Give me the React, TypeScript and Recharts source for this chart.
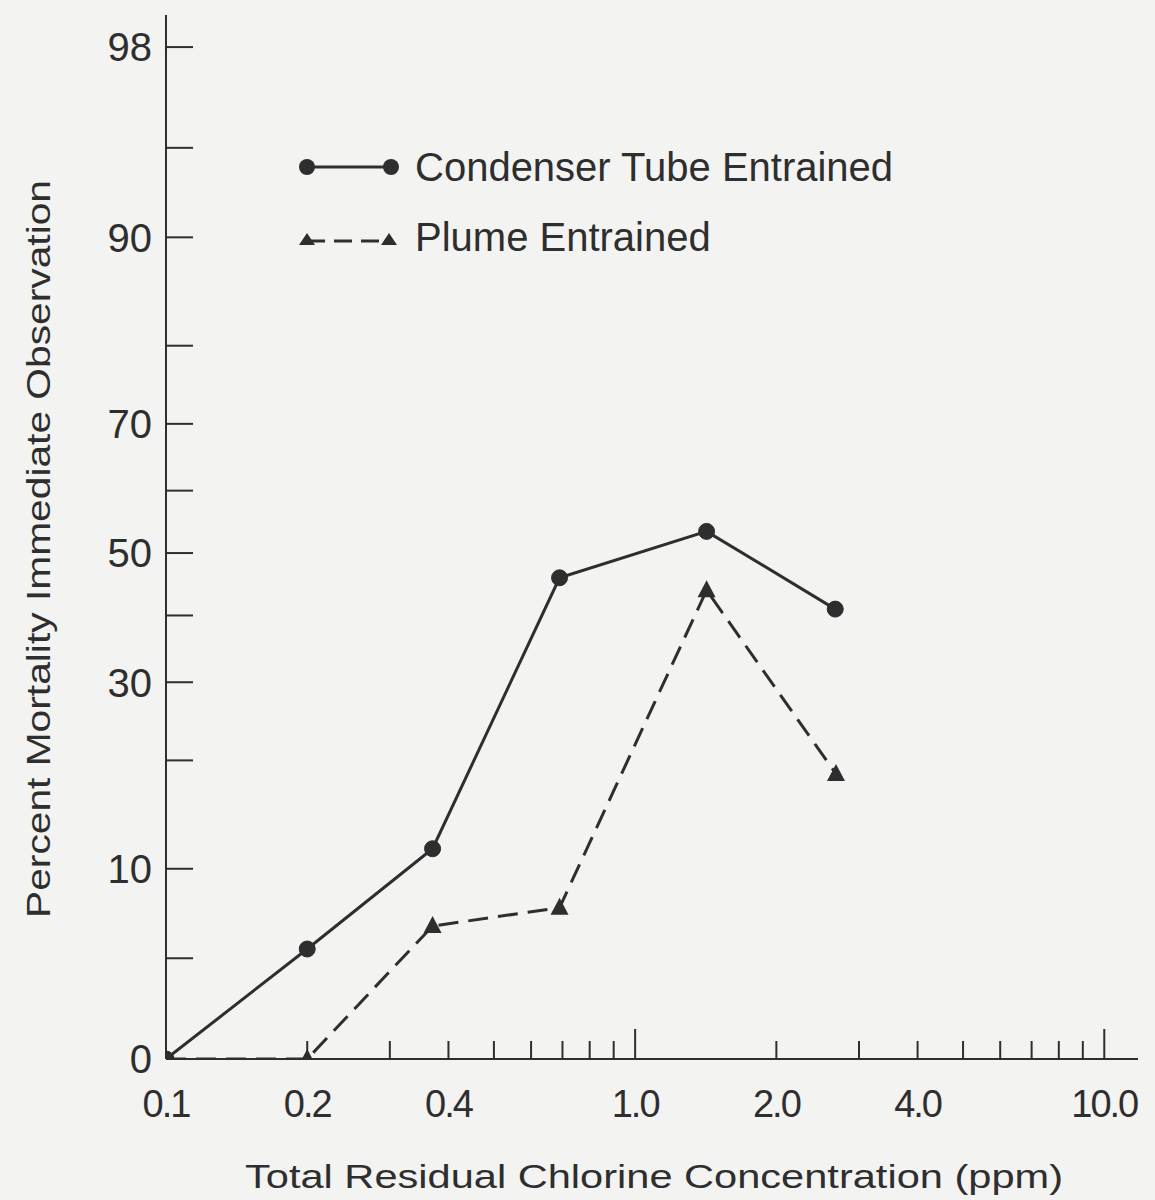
import { LineChart, Line, XAxis, YAxis } from 'recharts'

// concentration (ppm) vs. percent mortality, probit y / log x
const condenserPpm = [0.1, 0.2, 0.37, 0.69, 1.42, 2.67]
const condenserPct = [0, 5.4, 11.5, 46, 53.5, 41]
const plumePpm = [0.1, 0.2, 0.37, 0.69, 1.42, 2.68]
const plumePct = [0, 0, 6.5, 7.5, 44, 18.5]

const xTickValues = [0.1, 0.2, 0.3, 0.4, 0.5, 0.6, 0.7, 0.8, 0.9, 1, 2, 3, 4, 5, 6, 7, 8, 9, 10]
const xTickLabels: Record<string, string> = { '0.1': '0.1', '0.2': '0.2', '0.4': '0.4', '1': '1.0', '2': '2.0', '4': '4.0', '10': '10.0' }
const xTallTicks = [1, 10]

// the probability paper bottoms out at 2%, which is labelled 0
const yFloorPct = 2
const yTickValues = [2, 5, 10, 20, 30, 40, 50, 60, 70, 80, 90, 95, 98]
const yTickLabels: Record<string, string> = { '2': '0', '10': '10', '30': '30', '50': '50', '70': '70', '90': '90', '98': '98' }

const INK = '#2e2e2e'
const FONT = "'Liberation Sans', Arial, sans-serif"

function probit(p: number) {
  const a = [-39.69683028665376, 220.9460984245205, -275.9285104469687, 138.357751867269, -30.66479806614716, 2.506628277459239]
  const b = [-54.47609879822406, 161.5858368580409, -155.6989798598866, 66.80131188771972, -13.28068155288572]
  const c = [-0.007784894002430293, -0.3223964580411365, -2.400758277161838, -2.549732539343734, 4.374664141464968, 2.938163982698783]
  const d = [0.007784695709041462, 0.3224671290700398, 2.445134137142996, 3.754408661907416]
  const lo = 0.02425
  if (p < lo) {
    const q = Math.sqrt(-2 * Math.log(p))
    return (((((c[0] * q + c[1]) * q + c[2]) * q + c[3]) * q + c[4]) * q + c[5]) / ((((d[0] * q + d[1]) * q + d[2]) * q + d[3]) * q + 1)
  }
  if (p > 1 - lo) {
    const q = Math.sqrt(-2 * Math.log(1 - p))
    return -(((((c[0] * q + c[1]) * q + c[2]) * q + c[3]) * q + c[4]) * q + c[5]) / ((((d[0] * q + d[1]) * q + d[2]) * q + d[3]) * q + 1)
  }
  const q = p - 0.5
  const r = q * q
  return ((((((a[0] * r + a[1]) * r + a[2]) * r + a[3]) * r + a[4]) * r + a[5]) * q) / (((((b[0] * r + b[1]) * r + b[2]) * r + b[3]) * r + b[4]) * r + 1)
}

const toY = (pct: number) => probit(Math.max(pct, yFloorPct) / 100)
const toX = (ppm: number) => Math.log10(ppm)

const condenserData = condenserPpm.map((ppm, i) => ({ lx: toX(ppm), z: toY(condenserPct[i]), pct: condenserPct[i] }))
const plumeData = plumePpm.map((ppm, i) => ({ lx: toX(ppm), z: toY(plumePct[i]), pct: plumePct[i] }))

const xTicks = xTickValues.map(toX)
const yTicks = yTickValues.map(toY)

function XTick(props: any) {
  const { x, y, payload } = props
  const i = xTicks.findIndex(t => Math.abs(t - payload.value) < 1e-6)
  const v = xTickValues[i]
  const label = xTickLabels[String(v)]
  const len = xTallTicks.includes(v) ? 30 : 18
  return (
    <g>
      {v !== 0.1 && <line x1={x} y1={y} x2={x} y2={y - len} stroke={INK} strokeWidth={2} />}
      {label && (
        <text x={x} y={y + 58} textAnchor="middle" fontSize={38} fill={INK} fontFamily={FONT} letterSpacing={-2}>
          {label}
        </text>
      )}
    </g>
  )
}

function YTick(props: any) {
  const { x, y, payload } = props
  const i = yTicks.findIndex(t => Math.abs(t - payload.value) < 1e-6)
  const v = yTickValues[i]
  const label = yTickLabels[String(v)]
  return (
    <g>
      {v !== yFloorPct && <line x1={x} y1={y} x2={x + 27} y2={y} stroke={INK} strokeWidth={2} />}
      {label && (
        <text x={x - 14} y={y} dy="0.36em" textAnchor="end" fontSize={40} fill={INK} fontFamily={FONT}>
          {label}
        </text>
      )}
    </g>
  )
}

function Triangle(props: any) {
  const { cx, cy } = props
  if (cx == null || cy == null) return null
  return <polygon points={`${cx},${cy - 10} ${cx - 9},${cy + 7} ${cx + 9},${cy + 7}`} fill={INK} />
}

function LegendBox() {
  return (
    <div style={{ position: 'absolute', left: 297, top: 132, fontFamily: FONT, fontSize: 40, color: INK, lineHeight: '70px' }}>
      <div style={{ display: 'flex', alignItems: 'center' }}>
        <svg width={118} height={24}>
          <line x1={10} y1={12} x2={94} y2={12} stroke={INK} strokeWidth={3} />
          <circle cx={10} cy={12} r={8} fill={INK} />
          <circle cx={94} cy={12} r={8} fill={INK} />
        </svg>
        <span>Condenser Tube Entrained</span>
      </div>
      <div style={{ display: 'flex', alignItems: 'center' }}>
        <svg width={118} height={24}>
          <line x1={10} y1={16} x2={92} y2={16} stroke={INK} strokeWidth={3} strokeDasharray="18 9" />
          <polygon points="10,8 2,20 18,20" fill={INK} />
          <polygon points="92,8 84,20 100,20" fill={INK} />
        </svg>
        <span>Plume Entrained</span>
      </div>
    </div>
  )
}

export default function App() {
  return (
    <div style={{ position: 'absolute', left: 0, top: 0, width: 1155, height: 1200, background: '#f3f3f1' }}>
      <LineChart width={1155} height={1200} margin={{ top: 15, right: 17, left: 165, bottom: 140 }}>
        <XAxis
          type="number"
          dataKey="lx"
          domain={[-1, Math.log10(11.8)]}
          ticks={xTicks}
          interval={0}
          tick={<XTick />}
          tickLine={false}
          tickSize={0}
          tickMargin={0}
          height={1}
          axisLine={{ stroke: INK, strokeWidth: 2 }}
          allowDataOverflow
        />
        <YAxis
          type="number"
          dataKey="z"
          domain={[toY(yFloorPct), 2.184]}
          ticks={yTicks}
          interval={0}
          tick={<YTick />}
          tickLine={false}
          tickSize={0}
          tickMargin={0}
          width={1}
          axisLine={{ stroke: INK, strokeWidth: 2 }}
          allowDataOverflow
        />
        <Line
          data={condenserData}
          dataKey="z"
          name="Condenser Tube Entrained"
          stroke={INK}
          strokeWidth={3}
          dot={{ r: 8, fill: INK, stroke: INK, strokeWidth: 1 }}
          isAnimationActive={false}
        />
        <Line
          data={plumeData}
          dataKey="z"
          name="Plume Entrained"
          stroke={INK}
          strokeWidth={3}
          strokeDasharray="20 10"
          dot={<Triangle />}
          isAnimationActive={false}
        />
      </LineChart>
      <LegendBox />
      <svg width={1155} height={1200} style={{ position: 'absolute', left: 0, top: 0, pointerEvents: 'none' }}>
        <text
          x={0}
          y={0}
          transform="translate(50 549) rotate(-90)"
          textAnchor="middle"
          fontSize={34}
          fill={INK}
          fontFamily={FONT}
          textLength={738}
          lengthAdjust="spacingAndGlyphs"
        >
          Percent Mortality Immediate Observation
        </text>
        <text
          x={654}
          y={1188}
          textAnchor="middle"
          fontSize={34}
          fill={INK}
          fontFamily={FONT}
          textLength={818}
          lengthAdjust="spacingAndGlyphs"
        >
          Total Residual Chlorine Concentration (ppm)
        </text>
      </svg>
    </div>
  )
}
